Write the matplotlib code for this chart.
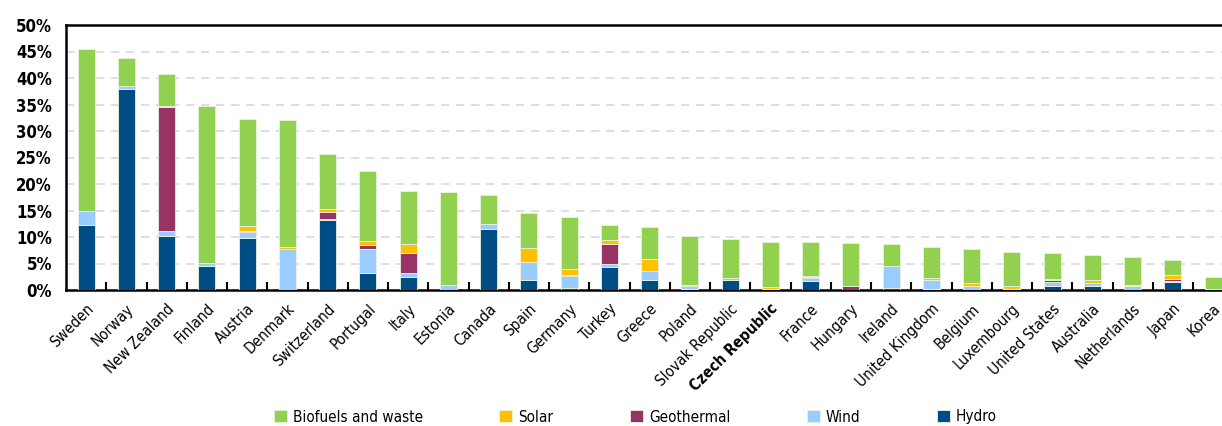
import numpy as np
import matplotlib.pyplot as plt

countries = ["Sweden", "Norway", "New Zealand", "Finland", "Austria", "Denmark",
             "Switzerland", "Portugal", "Italy", "Estonia", "Canada", "Spain",
             "Germany", "Turkey", "Greece", "Poland", "Slovak Republic",
             "Czech Republic", "France", "Hungary", "Ireland", "United Kingdom",
             "Belgium", "Luxembourg", "United States", "Australia", "Netherlands",
             "Japan", "Korea"]

# shares in % of total primary energy supply
hydro = [12.2, 37.9, 10.1, 4.5, 9.8, 0.0, 13.3, 3.2, 2.4, 0.0, 11.55, 1.8,
         0.3, 4.3, 1.9, 0.1, 1.9, 0.1, 1.65, 0.05, 0.3, 0.1, 0.05, 0.2,
         0.8, 0.7, 0.0, 1.45, 0.1]
wind = [2.7, 0.6, 1.0, 0.55, 1.2, 7.7, 0.1, 4.6, 0.8, 0.95, 0.85, 3.5,
        2.35, 0.7, 1.6, 0.7, 0.05, 0.0, 0.65, 0.0, 4.2, 1.85, 0.65, 0.0,
        0.65, 0.7, 0.7, 0.2, 0.0]
geothermal = [0.0, 0.0, 23.5, 0.0, 0.1, 0.0, 1.3, 0.7, 3.7, 0.0, 0.0, 0.0,
              0.1, 3.7, 0.1, 0.05, 0.0, 0.0, 0.1, 0.65, 0.0, 0.0, 0.1, 0.0,
              0.45, 0.0, 0.1, 0.45, 0.0]
solar = [0.1, 0.0, 0.2, 0.0, 0.9, 0.5, 0.6, 0.7, 1.7, 0.0, 0.0, 2.65,
         1.25, 0.7, 2.3, 0.05, 0.4, 0.4, 0.2, 0.05, 0.0, 0.35, 0.5, 0.5,
         0.25, 0.55, 0.2, 0.75, 0.0]
biofuels = [30.5, 5.2, 5.9, 29.65, 20.3, 23.9, 10.4, 13.3, 10.15, 17.45, 5.6, 6.65,
            9.7, 2.8, 5.9, 9.2, 7.2, 8.65, 6.4, 8.1, 4.1, 5.9, 6.5, 6.4,
            4.85, 4.65, 5.25, 2.85, 2.3]

c_bio = "#92D050"
c_solar = "#FFC000"
c_geo = "#993366"
c_wind = "#99CCFF"
c_hydro = "#004C84"

plt.rcParams['font.family'] = ['DejaVu Sans']
plt.rcParams['font.stretch'] = 'condensed'
fs = 11

fig = plt.figure(figsize=(12.22, 4.26), dpi=100)
ax = fig.add_axes([66 / 1222, 1 - 290 / 426, 1 - 66 / 1222, 265 / 426])

x = np.arange(len(countries))
w = 0.42
bottom = np.zeros(len(countries))
series = [(hydro, c_hydro, "Hydro"), (wind, c_wind, "Wind"),
          (geothermal, c_geo, "Geothermal"), (solar, c_solar, "Solar"),
          (biofuels, c_bio, "Biofuels and waste")]
handles = {}
for vals, col, name in series:
    vals = np.array(vals)
    b = ax.bar(x, vals, w, bottom=bottom, color=col, edgecolor="#E8F4E0",
               linewidth=0.6, zorder=3, label=name)
    handles[name] = b
    bottom += vals

ax.set_ylim(0, 50)
ax.set_xlim(-0.5, 28.22)
ax.set_yticks(np.arange(0, 51, 5))
ax.set_yticklabels([f"{v}%" for v in range(0, 51, 5)], fontsize=fs + 1,
                   fontweight="bold")
for y in range(5, 50, 5):
    ax.axhline(y, color="#D9D9D9", linestyle=(0, (5, 4)), linewidth=1.2, zorder=1)

ax.set_xticks(x)
ax.set_xticklabels(countries, rotation=45, ha="right", rotation_mode="anchor",
                   fontsize=fs)
for lbl in ax.get_xticklabels():
    if lbl.get_text() == "Czech Republic":
        lbl.set_fontweight("bold")
ax.tick_params(axis="x", which="major", length=0, pad=8)
ax.set_xticks(x[:-1] + 0.5, minor=True)
ax.tick_params(axis="x", which="minor", direction="in", length=6, width=1.5)
ax.tick_params(axis="y", length=0, pad=10)

for s in ax.spines.values():
    s.set_linewidth(1.8)
ax.spines["right"].set_visible(False)

order = ["Biofuels and waste", "Solar", "Geothermal", "Wind", "Hydro"]
fig.legend([handles[n] for n in order], order, loc="center",
           bbox_to_anchor=(0.52, 1 - 417 / 426), ncol=5, frameon=False,
           fontsize=fs, handlelength=0.85, handleheight=0.85, columnspacing=5.0,
           handletextpad=0.4)

fig.savefig("out.png", dpi=100)
